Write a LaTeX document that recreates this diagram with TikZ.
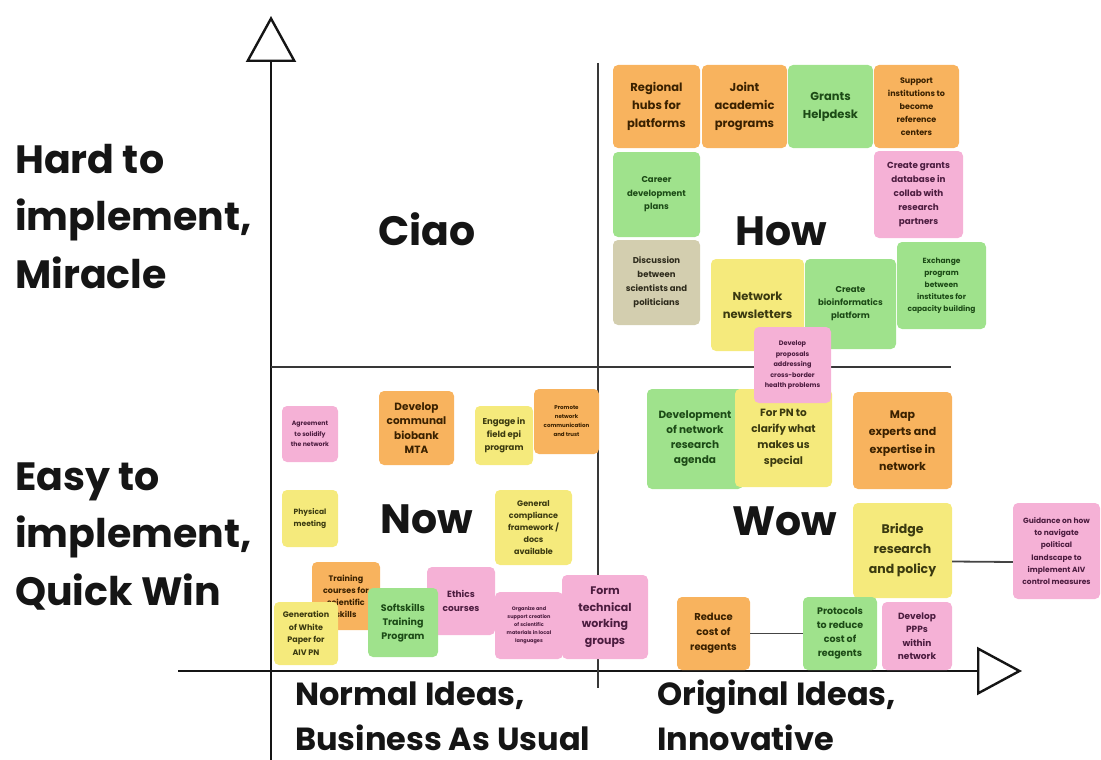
\documentclass[tikz,border=0pt]{standalone}
\usepackage{fontspec}
\setmainfont{Poppins}
\usetikzlibrary{arrows.meta}

\definecolor{noteorange}{HTML}{F8B35E}
\definecolor{notegreen}{HTML}{9FE28C}
\definecolor{noteyellow}{HTML}{F5EA7C}
\definecolor{notepink}{HTML}{F5B1D6}
\definecolor{notekhaki}{HTML}{D3CEAF}
\definecolor{inkorange}{HTML}{3A2100}
\definecolor{inkgreen}{HTML}{1C4A16}
\definecolor{inkyellow}{HTML}{3B3A10}
\definecolor{inkpink}{HTML}{4B1C3F}
\definecolor{inkkhaki}{HTML}{2E2B1C}
\definecolor{ink}{HTML}{151515}

\newcommand{\notefont}[2]{\fontsize{#1}{#2}\selectfont\bfseries}

\tikzset{
    note/.style = {
        rounded corners = 5pt,
        inner sep = 1pt,
        align = center
    },
    orangenote/.style = {note, fill = noteorange, text = inkorange},
    greennote/.style = {note, fill = notegreen, text = inkgreen},
    yellownote/.style = {note, fill = noteyellow, text = inkyellow},
    pinknote/.style = {note, fill = notepink, text = inkpink},
    khakinote/.style = {note, fill = notekhaki, text = inkkhaki},
    axis/.style = {line width = 2.4pt, draw = ink},
    divider/.style = {line width = 2pt, draw = ink!85},
    link/.style = {line width = 1.8pt, draw = ink!80},
    biglabel/.style = {align = left, inner sep = 0pt, text = ink,
        font = \fontsize{39.5}{57.5}\selectfont\bfseries},
    axislabel/.style = {align = left, inner sep = 0pt, text = ink,
        font = \fontsize{32}{45}\selectfont\bfseries},
    quadlabel/.style = {inner sep = 0pt, text = ink,
        font = \fontsize{41}{45}\selectfont\bfseries}
}

\begin{document}
\begin{tikzpicture}[x=1pt, y=-1pt]
    \useasboundingbox (0,0) rectangle (1101,760);

    % Axes
    \coordinate (ybottom) at (271,760);
    \coordinate (ytop) at (271,16);
    \coordinate (xleft) at (178,671);
    \coordinate (xright) at (1022,671);
    \draw[axis, -{Triangle[open, length=46pt, width=50pt, line width=2.4pt]}] (ybottom) -- (ytop);
    \draw[axis, -{Triangle[open, length=45pt, width=48pt, line width=2.4pt]}] (xleft) -- (xright);

    % Quadrant dividers
    \coordinate (vtop) at (598,63);
    \coordinate (vbottom) at (598,688);
    \coordinate (hleft) at (271,367);
    \coordinate (hright) at (951,367);
    \draw[divider] (vtop) -- (vbottom);
    \draw[divider] (hleft) -- (hright);

    % Axis labels (base = last line)
    \node[biglabel, anchor=base west] (hard) at (15,288) {Hard to\\implement,\\Miracle};
    \node[biglabel, anchor=base west] (easy) at (15,605) {Easy to\\implement,\\Quick Win};
    \node[axislabel, anchor=base west] (normal) at (295,750) {Normal Ideas,\\Business As Usual};
    \node[axislabel, anchor=base west] (original) at (657,750) {Original Ideas,\\Innovative};

    % Quadrant names
    \node[quadlabel, anchor=base] (ciao) at (427,245) {Ciao};
    \node[quadlabel, anchor=base] (how) at (781,245) {How};
    \node[quadlabel, anchor=base] (now) at (427,533) {Now};
    \node[quadlabel, anchor=base] (wow) at (785,535) {Wow};

    % How
    \node[orangenote, minimum width=87, minimum height=83, font=\notefont{11.5}{18}] (hubs) at (656.5,106.5) {Regional\\hubs for\\platforms};
    \node[orangenote, minimum width=85, minimum height=83, font=\notefont{11.5}{18}] (joint) at (744.5,106.5) {Joint\\academic\\programs};
    \node[greennote, minimum width=85, minimum height=83, font=\notefont{11.5}{18}] (helpdesk) at (830.5,106.5) {Grants\\Helpdesk};
    \node[orangenote, minimum width=85, minimum height=83, font=\notefont{8}{13}] (support) at (916.5,106.5) {Support\\institutions to\\become\\reference\\centers};
    \node[greennote, minimum width=87, minimum height=85, font=\notefont{8.5}{13.5}] (career) at (656.5,194.5) {Career\\development\\plans};
    \node[pinknote, minimum width=89, minimum height=87, font=\notefont{8.8}{14}] (grantsdb) at (918.5,194.5) {Create grants\\database in\\collab with\\research\\partners};
    \node[khakinote, minimum width=87, minimum height=85, font=\notefont{8.5}{14}] (discussion) at (656.5,282.5) {Discussion\\between\\scientists and\\politicians};
    \node[yellownote, minimum width=93, minimum height=92, font=\notefont{11.5}{18}] (newsletters) at (757.5,305) {Network\\newsletters};
    \node[greennote, minimum width=91, minimum height=90, font=\notefont{8.5}{13}] (bioinf) at (850.5,304) {Create\\bioinformatics\\platform};
    \node[greennote, minimum width=89, minimum height=87, font=\notefont{7.5}{12}] (exchange) at (941.5,285.5) {Exchange\\program\\between\\institutes for\\capacity building};

    % Wow
    \node[greennote, minimum width=96, minimum height=100, font=\notefont{10.5}{15}] (agenda) at (695,439) {Development\\of network\\research\\agenda};
    \node[yellownote, minimum width=97, minimum height=98, font=\notefont{10.5}{16}] (forpn) at (783.5,438) {For PN to\\clarify what\\makes us\\special};
    \node[pinknote, minimum width=77, minimum height=76, font=\notefont{6.5}{10.5}] (proposals) at (792.5,365) {Develop\\proposals\\addressing\\cross-border\\health problems};
    \node[orangenote, minimum width=99, minimum height=97, font=\notefont{11}{17.5}] (map) at (902.5,440.5) {Map\\experts and\\expertise in\\network};
    \node[yellownote, minimum width=99, minimum height=95, font=\notefont{12.5}{20}] (bridge) at (902.5,550.5) {Bridge\\research\\and policy};
    \node[pinknote, minimum width=87, minimum height=96, font=\notefont{7.5}{12.3}] (guidance) at (1056.5,551) {Guidance on how\\to navigate\\political\\landscape to\\implement AIV\\control measures};
    \node[orangenote, minimum width=73, minimum height=73, font=\notefont{10}{15}] (reduce) at (713.5,633.5) {Reduce\\cost of\\reagents};
    \node[greennote, minimum width=74, minimum height=73, font=\notefont{9.5}{14}] (protocols) at (840,633.5) {Protocols\\to reduce\\cost of\\reagents};
    \node[pinknote, minimum width=70, minimum height=68, font=\notefont{9}{13.5}] (ppps) at (917,636) {Develop\\PPPs\\within\\network};

    % Links
    \draw[link] ([yshift=-11pt]bridge.east) -- ([yshift=-11pt]guidance.west);
    \draw[link] (reduce) -- (protocols);

    % Now
    \node[pinknote, minimum width=56, minimum height=56, font=\notefont{6.2}{10.5}] (agreement) at (310,434) {Agreement\\to solidify\\the network};
    \node[orangenote, minimum width=75, minimum height=74, font=\notefont{10.5}{14.5}] (biobank) at (416.5,428) {Develop\\communal\\biobank\\MTA};
    \node[yellownote, minimum width=58, minimum height=59, font=\notefont{8.5}{13}] (epi) at (504,435.5) {Engage in\\field epi\\program};
    \node[orangenote, minimum width=65, minimum height=65, font=\notefont{5.5}{9}] (promote) at (566.5,421.5) {Promote\\network\\communication\\and trust};
    \node[yellownote, minimum width=56, minimum height=57, font=\notefont{7.5}{12}] (physical) at (310,518.5) {Physical\\meeting};
    \node[yellownote, minimum width=77, minimum height=75, font=\notefont{8}{12}] (compliance) at (533.5,527.5) {General\\compliance\\framework /\\docs\\available};
    \node[orangenote, minimum width=68, minimum height=68, font=\notefont{8}{12}] (training) at (346,596) {Training\\courses for\\scientific\\skills};
    \node[pinknote, minimum width=68, minimum height=68, font=\notefont{9}{14}] (ethics) at (461,601) {Ethics\\courses};
    \node[yellownote, minimum width=64, minimum height=63, font=\notefont{8}{12.5}] (whitepaper) at (306,633.5) {Generation\\of White\\Paper for\\AIV PN};
    \node[greennote, minimum width=70, minimum height=69, font=\notefont{9.5}{14}] (softskills) at (403,622.5) {Softskills\\Training\\Program};
    \node[pinknote, minimum width=68, minimum height=67, font=\notefont{5}{8}] (organize) at (529,625.5) {Organize and\\support creation\\of scientific\\materials in local\\languages};
    \node[pinknote, minimum width=86, minimum height=84, font=\notefont{11}{16.5}] (form) at (605,617) {Form\\technical\\working\\groups};

\end{tikzpicture}
\end{document}
